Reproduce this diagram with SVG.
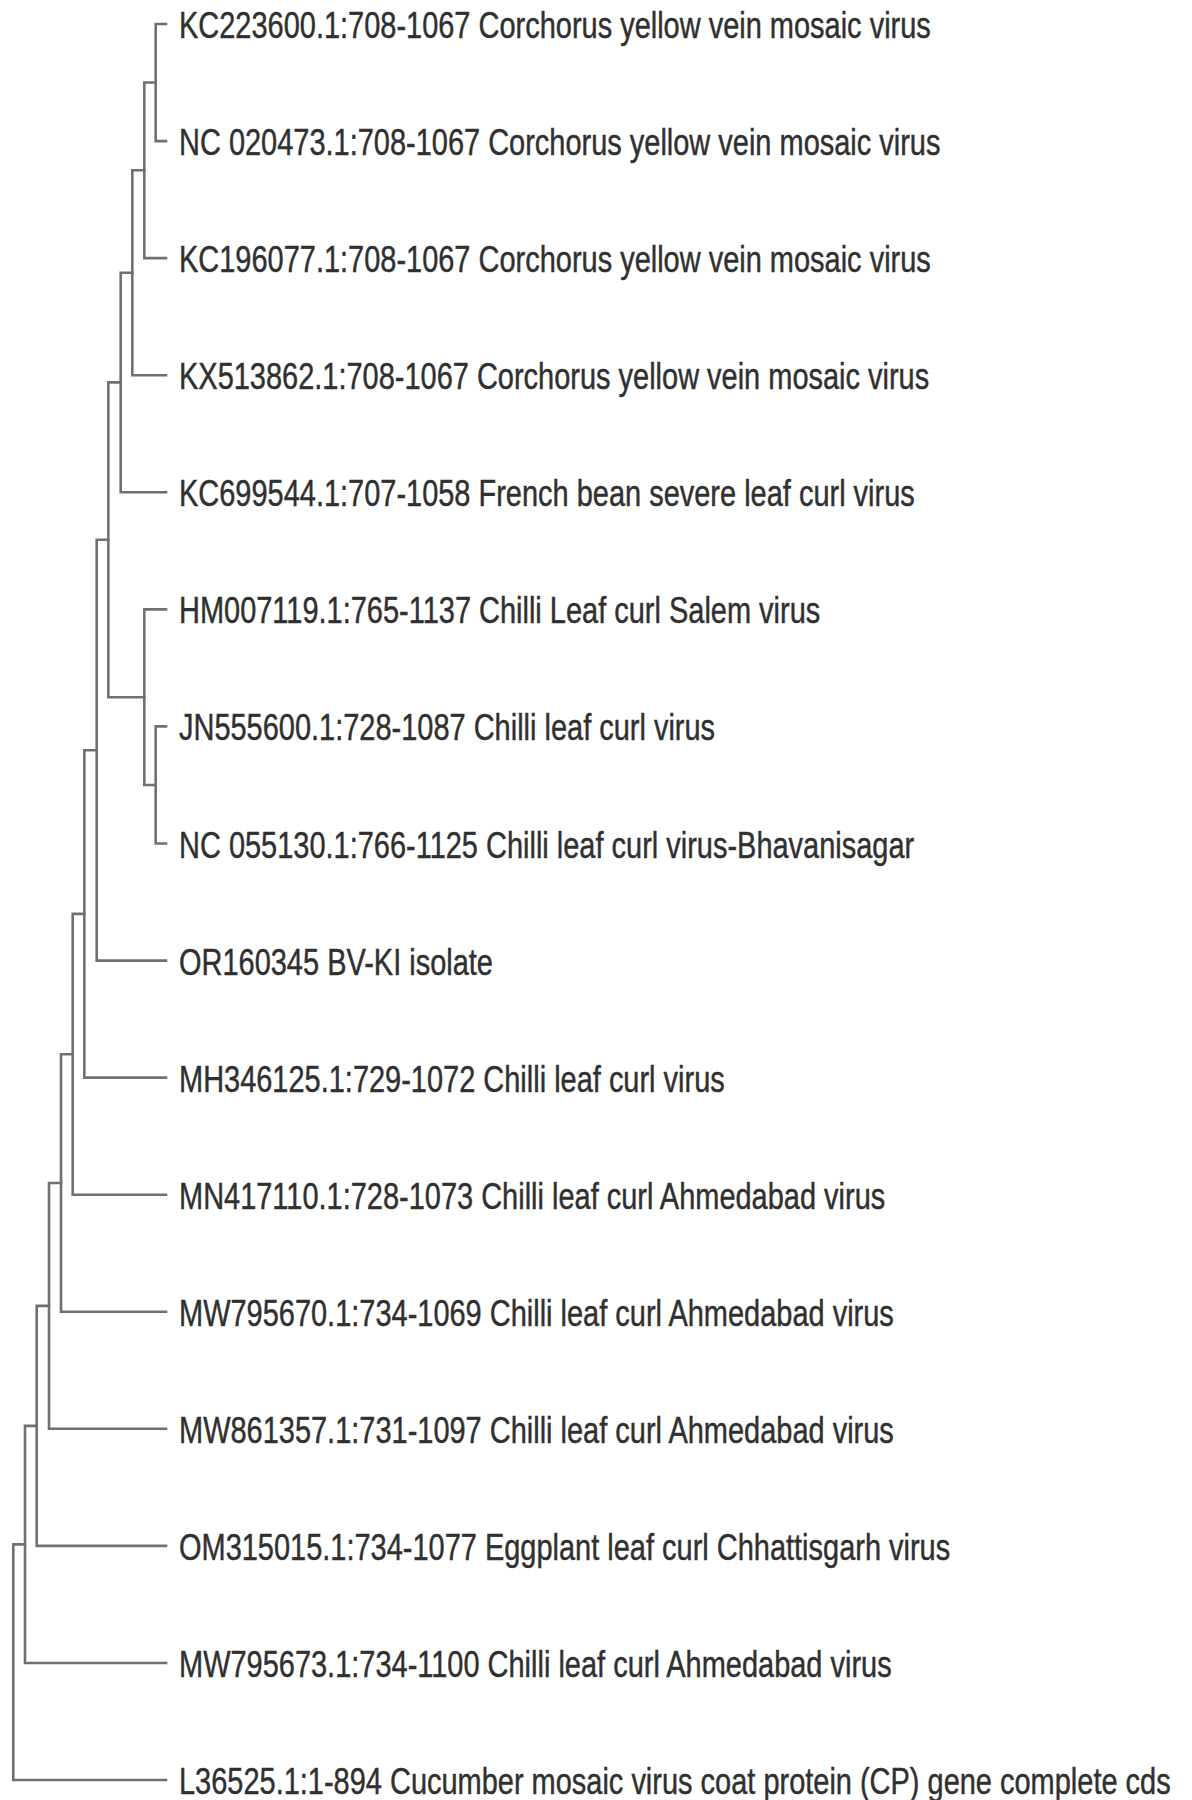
<svg xmlns="http://www.w3.org/2000/svg" width="1192" height="1800" viewBox="0 0 1192 1800">
<style>
.br{fill:none;stroke:#707070;stroke-width:2.6;stroke-linecap:square;stroke-linejoin:miter}
.lb{font-family:"Liberation Sans",Arial,sans-serif;font-size:37px;fill:#303030;stroke:#303030;stroke-width:0.45}
</style>
<rect width="1192" height="1800" fill="#ffffff"/>
<g id="connectors">
<path class="br" d="M166 24 H155.7 V141.1 H166"/>
<path class="br" d="M155.7 82.5 H144.3 V258.1 H166"/>
<path class="br" d="M144.3 170.3 H132.3 V375.2 H166"/>
<path class="br" d="M132.3 272.7 H120.7 V492.3 H166"/>
<path class="br" d="M166 726.4 H155.7 V843.5 H166"/>
<path class="br" d="M166 609.4 H144.3 V785 H155.7"/>
<path class="br" d="M120.7 382.4 H108.3 V697.2 H144.3"/>
<path class="br" d="M108.3 539.8 H96.7 V960.6 H166"/>
<path class="br" d="M96.7 750.2 H84.3 V1077.6 H166"/>
<path class="br" d="M84.3 913.9 H72.7 V1194.7 H166"/>
<path class="br" d="M72.7 1054.3 H61 V1311.8 H166"/>
<path class="br" d="M61 1183 H49 V1428.8 H166"/>
<path class="br" d="M49 1305.9 H36.7 V1545.9 H166"/>
<path class="br" d="M36.7 1425.9 H25 V1663 H166"/>
<path class="br" d="M25 1544.4 H13.3 V1780 H166"/>
</g>
<g id="leaf1"><text class="lb" transform="translate(179 38) scale(0.783 1)">KC223600.1:708-1067 Corchorus yellow vein mosaic virus</text></g>
<g id="leaf2"><text class="lb" transform="translate(179 155.1) scale(0.783 1)">NC 020473.1:708-1067 Corchorus yellow vein mosaic virus</text></g>
<g id="leaf3"><text class="lb" transform="translate(179 272.1) scale(0.783 1)">KC196077.1:708-1067 Corchorus yellow vein mosaic virus</text></g>
<g id="leaf4"><text class="lb" transform="translate(179 389.2) scale(0.783 1)">KX513862.1:708-1067 Corchorus yellow vein mosaic virus</text></g>
<g id="leaf5"><text class="lb" transform="translate(179 506.3) scale(0.783 1)">KC699544.1:707-1058 French bean severe leaf curl virus</text></g>
<g id="leaf6"><text class="lb" transform="translate(179 623.4) scale(0.783 1)">HM007119.1:765-1137 Chilli Leaf curl Salem virus</text></g>
<g id="leaf7"><text class="lb" transform="translate(179 740.4) scale(0.783 1)">JN555600.1:728-1087 Chilli leaf curl virus</text></g>
<g id="leaf8"><text class="lb" transform="translate(179 857.5) scale(0.783 1)">NC 055130.1:766-1125 Chilli leaf curl virus-Bhavanisagar</text></g>
<g id="leaf9"><text class="lb" transform="translate(179 974.6) scale(0.783 1)">OR160345 BV-KI isolate</text></g>
<g id="leaf10"><text class="lb" transform="translate(179 1091.6) scale(0.783 1)">MH346125.1:729-1072 Chilli leaf curl virus</text></g>
<g id="leaf11"><text class="lb" transform="translate(179 1208.7) scale(0.783 1)">MN417110.1:728-1073 Chilli leaf curl Ahmedabad virus</text></g>
<g id="leaf12"><text class="lb" transform="translate(179 1325.8) scale(0.783 1)">MW795670.1:734-1069 Chilli leaf curl Ahmedabad virus</text></g>
<g id="leaf13"><text class="lb" transform="translate(179 1442.8) scale(0.783 1)">MW861357.1:731-1097 Chilli leaf curl Ahmedabad virus</text></g>
<g id="leaf14"><text class="lb" transform="translate(179 1559.9) scale(0.783 1)">OM315015.1:734-1077 Eggplant leaf curl Chhattisgarh virus</text></g>
<g id="leaf15"><text class="lb" transform="translate(179 1677) scale(0.783 1)">MW795673.1:734-1100 Chilli leaf curl Ahmedabad virus</text></g>
<g id="leaf16"><text class="lb" transform="translate(179 1794) scale(0.783 1)">L36525.1:1-894 Cucumber mosaic virus coat protein (CP) gene complete cds</text></g>
</svg>
